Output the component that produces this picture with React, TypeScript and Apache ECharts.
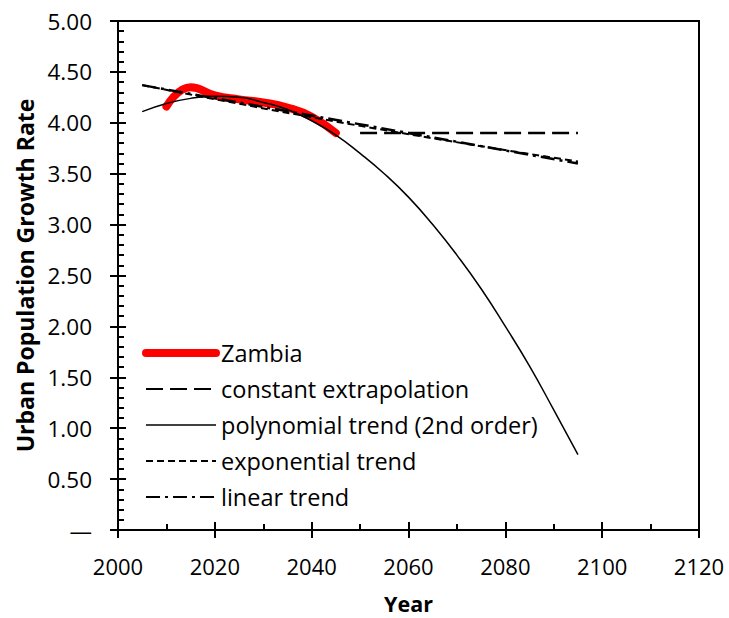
import React, { useEffect, useRef } from "react";
import * as echarts from "echarts";

const zambiaYears = [2010, 2015, 2020, 2025, 2030, 2035, 2040, 2045];
const zambiaRate = [4.16, 4.35, 4.27, 4.23, 4.2, 4.15, 4.06, 3.9];

const constantYears = [2050, 2095];
const constantRate = [3.9, 3.9];

const polyYears = [2005, 2010, 2015, 2020, 2025, 2030, 2035, 2040, 2045, 2050, 2055, 2060, 2065, 2070, 2075, 2080, 2085, 2090, 2095];
const polyRate = [4.11, 4.19, 4.24, 4.26, 4.25, 4.2, 4.13, 4.02, 3.88, 3.7, 3.5, 3.27, 3.0, 2.7, 2.37, 2.0, 1.61, 1.18, 0.74];

const expYears = [2005, 2050, 2095];
const expRate = [4.37, 3.97, 3.62];

const linYears = [2005, 2095];
const linRate = [4.37, 3.6];

const seriesNames = [
  "Zambia",
  "constant extrapolation",
  "polynomial trend (2nd order)",
  "exponential trend",
  "linear trend",
];

const xTicks = { min: 2000, max: 2120, interval: 20 };
const yTicks = { min: 0, max: 5, interval: 0.5 };

const FONT = "Open Sans";

function pairs(xs: number[], ys: number[]) {
  return xs.map((x, i) => [x, ys[i]]);
}

export default function App() {
  const ref = useRef<HTMLDivElement>(null);
  useEffect(() => {
    if (!ref.current) return;
    const chart = echarts.init(ref.current, undefined, { renderer: "svg" });
    const axisLine = { show: true, lineStyle: { color: "#000", width: 2 } };
    const hidden = { opacity: 0 };
    const option: any = {
      animation: false,
      backgroundColor: "#fff",
      grid: {
        left: 118,
        right: 30,
        top: 21,
        bottom: 88,
        containLabel: false,
        outerBoundsMode: "none",
        show: true,
        borderColor: "#000",
        borderWidth: 2,
        backgroundColor: "transparent",
      },
      legend: {
        orient: "vertical",
        left: 137,
        top: 336,
        itemWidth: 70,
        itemHeight: 14,
        itemGap: 12,
        itemStyle: hidden,
        textStyle: { fontFamily: FONT, fontSize: 23.5, color: "#000" },
        data: [
          { name: seriesNames[0], itemStyle: hidden, lineStyle: { width: 8, cap: "round" } },
          { name: seriesNames[1], itemStyle: hidden, lineStyle: { width: 2 } },
          { name: seriesNames[2], itemStyle: hidden, lineStyle: { width: 1.5 } },
          { name: seriesNames[3], itemStyle: hidden, lineStyle: { width: 2 } },
          { name: seriesNames[4], itemStyle: hidden, lineStyle: { width: 2 } },
        ],
      },
      xAxis: [
        {
          type: "value",
          ...xTicks,
          position: "bottom",
          axisLine,
          axisTick: { show: true, inside: false, length: 8, lineStyle: { width: 2, color: "#000" } },
          axisLabel: {
            fontFamily: FONT,
            fontSize: 22,
            color: "#000",
            margin: 25,
            formatter: (v: number) => String(v),
          },
          splitLine: { show: false },
          name: "Year",
          nameLocation: "middle",
          nameGap: 63,
          nameTextStyle: {
            fontFamily: FONT,
            fontSize: 21.5,
            lineHeight: 21,
            fontWeight: "bold",
            color: "#000",
          },
        },
        {
          type: "value",
          ...xTicks,
          position: "bottom",
          axisLine: { show: false },
          axisTick: { show: true, inside: true, length: 8, lineStyle: { width: 2, color: "#000" } },
          minorTick: { show: true, splitNumber: 2, length: 6, lineStyle: { width: 2, color: "#000" } },
          axisLabel: { show: false },
          splitLine: { show: false },
        },
      ],
      yAxis: [
        {
          type: "value",
          ...yTicks,
          position: "left",
          axisLine,
          axisTick: { show: true, inside: false, length: 8, lineStyle: { width: 2, color: "#000" } },
          axisLabel: {
            fontFamily: FONT,
            fontSize: 22.5,
            color: "#000",
            margin: 26,
            formatter: (v: number) => (v === 0 ? "—" : v.toFixed(2)),
          },
          splitLine: { show: false },
          name: "Urban Population Growth Rate",
          nameLocation: "middle",
          nameGap: 76,
          nameTextStyle: { fontFamily: FONT, fontSize: 23, fontWeight: "bold", color: "#000" },
        },
        {
          type: "value",
          ...yTicks,
          position: "left",
          axisLine: { show: false },
          axisTick: { show: true, inside: true, length: 8, lineStyle: { width: 2, color: "#000" } },
          minorTick: { show: true, splitNumber: 5, length: 6, lineStyle: { width: 2, color: "#000" } },
          axisLabel: { show: false },
          splitLine: { show: false },
        },
      ],
      series: [
        {
          name: seriesNames[0],
          type: "line",
          data: pairs(zambiaYears, zambiaRate),
          smooth: true,
          symbol: "none",
          lineStyle: { color: "#ff0000", width: 8, cap: "round" },
          itemStyle: { color: "#ff0000" },
          z: 3,
        },
        {
          name: seriesNames[1],
          type: "line",
          data: pairs(constantYears, constantRate),
          symbol: "none",
          lineStyle: { color: "#000", width: 2.5, type: [17, 7] },
          itemStyle: { color: "#000" },
        },
        {
          name: seriesNames[2],
          type: "line",
          data: pairs(polyYears, polyRate),
          smooth: true,
          symbol: "none",
          lineStyle: { color: "#000", width: 1.5 },
          itemStyle: { color: "#000" },
          z: 4,
        },
        {
          name: seriesNames[3],
          type: "line",
          data: pairs(expYears, expRate),
          smooth: true,
          symbol: "none",
          lineStyle: { color: "#000", width: 2, type: [7, 4] },
          itemStyle: { color: "#000" },
        },
        {
          name: seriesNames[4],
          type: "line",
          data: pairs(linYears, linRate),
          symbol: "none",
          lineStyle: { color: "#000", width: 2.5, type: [14, 5, 3, 5] },
          itemStyle: { color: "#000" },
        },
      ],
    };
    chart.setOption(option);
    return () => chart.dispose();
  }, []);
  return (
    <div
      ref={ref}
      style={{ position: "fixed", left: 0, top: 0, width: 729, height: 618, background: "#fff" }}
    />
  );
}
